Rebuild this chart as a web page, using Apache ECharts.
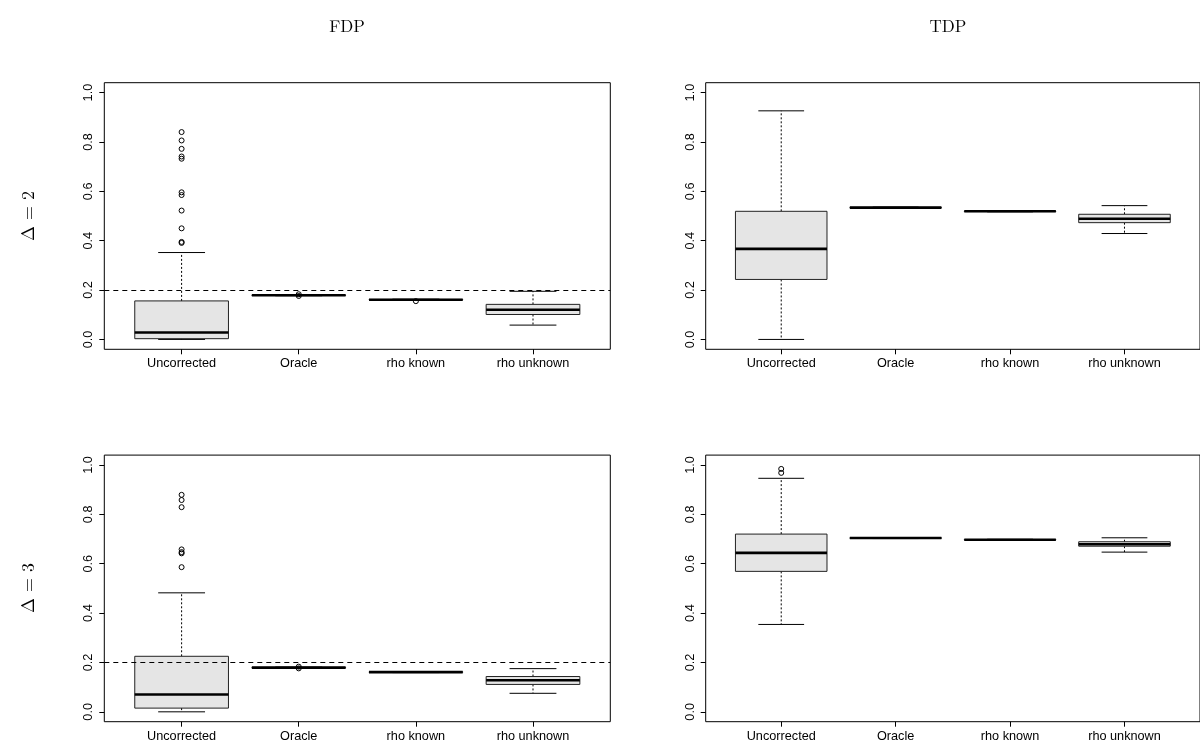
<!DOCTYPE html>
<html>
<head>
<meta charset="utf-8">
<script src="https://cdn.jsdelivr.net/npm/echarts@6/dist/echarts.min.js"></script>
<style>
html,body{margin:0;padding:0;background:#fff;}
#chart{width:1200px;height:743px;}
</style>
</head>
<body>
<div id="chart"></div>
<script>
// ---- data ----
const categories = ['Uncorrected', 'Oracle', 'rho known', 'rho unknown'];
const colTitles = ['FDP', 'TDP'];
const rowTitles = ['Δ = 2', 'Δ = 3'];
const yTicks = [0, 0.2, 0.4, 0.6, 0.8, 1.0];
const fdpLevel = 0.2;

// each box: [min, q1, median, q3, max]
const fdpD2 = [
  [0.000, 0.003, 0.028, 0.156, 0.352],
  [0.177, 0.178, 0.179, 0.180, 0.181],
  [0.158, 0.160, 0.161, 0.162, 0.163],
  [0.058, 0.101, 0.120, 0.142, 0.195]
];
const fdpD2Out = [
  [0.840, 0.806, 0.772, 0.741, 0.732, 0.596, 0.585, 0.522, 0.450, 0.395, 0.391],
  [0.183, 0.176],
  [0.155],
  []
];
const tdpD2 = [
  [0.000, 0.243, 0.367, 0.519, 0.926],
  [0.532, 0.533, 0.534, 0.535, 0.536],
  [0.517, 0.518, 0.519, 0.520, 0.521],
  [0.429, 0.473, 0.489, 0.507, 0.542]
];
const tdpD2Out = [[], [], [], []];
const fdpD3 = [
  [0.000, 0.015, 0.070, 0.225, 0.482],
  [0.177, 0.178, 0.179, 0.180, 0.181],
  [0.159, 0.160, 0.161, 0.162, 0.163],
  [0.075, 0.111, 0.128, 0.143, 0.175]
];
const fdpD3Out = [
  [0.879, 0.858, 0.829, 0.658, 0.647, 0.642, 0.586],
  [0.183, 0.176],
  [],
  []
];
const tdpD3 = [
  [0.354, 0.569, 0.644, 0.720, 0.946],
  [0.702, 0.703, 0.704, 0.705, 0.706],
  [0.695, 0.696, 0.697, 0.698, 0.699],
  [0.647, 0.671, 0.679, 0.689, 0.705]
];
const tdpD3Out = [[0.984, 0.968], [], [], []];

// ---- layout ----
const panels = [
  {box: fdpD2, out: fdpD2Out, ref: true,  left: 104.3, top: 82.7},
  {box: tdpD2, out: tdpD2Out, ref: false, left: 705.7, top: 82.7},
  {box: fdpD3, out: fdpD3Out, ref: true,  left: 104.3, top: 455.1},
  {box: tdpD3, out: tdpD3Out, ref: false, left: 705.7, top: 455.1}
];
const PW = 506, PH = 266.6;
const positions = categories.map((c, i) => i + 1);

const labelFont = 'Liberation Sans, Arial, Helvetica, sans-serif';
const serifFont = 'Latin Modern Roman, Liberation Serif, DejaVu Serif, serif';

const grids = [], xAxes = [], yAxes = [], series = [];
panels.forEach((p, k) => {
  grids.push({
    left: p.left, top: p.top, width: PW, height: PH,
    show: true, borderColor: '#000', borderWidth: 1, backgroundColor: 'transparent', containLabel: false
  });
  xAxes.push({
    type: 'value', gridIndex: k, min: 0.34, max: 4.66, position: 'bottom',
    axisLine: {show: false, onZero: false},
    splitLine: {show: false},
    axisTick: {show: true, length: 5, customValues: positions, lineStyle: {color: '#000', width: 1}},
    axisLabel: {
      show: true, customValues: positions, margin: 8,
      fontFamily: labelFont, fontSize: 12.7, color: '#000',
      formatter: v => categories[Math.round(v) - 1]
    }
  });
  yAxes.push({
    type: 'value', gridIndex: k, min: -0.04, max: 1.04, position: 'left',
    axisLine: {show: false, onZero: false},
    splitLine: {show: false},
    axisTick: {show: true, length: 5, customValues: yTicks, lineStyle: {color: '#000', width: 1}},
    axisLabel: {
      show: true, customValues: yTicks, rotate: 90, margin: 9,
      fontFamily: labelFont, fontSize: 12.7, color: '#000',
      formatter: v => v.toFixed(1)
    }
  });
  const boxData = p.box.map((b, i) => [positions[i]].concat(b));
  const s = {
    type: 'custom', xAxisIndex: k, yAxisIndex: k,
    data: boxData,
    encode: {x: 0, y: [1, 2, 3, 4, 5]},
    silent: true,
    renderItem: function (params, api) {
      const x = api.value(0);
      const vMin = api.value(1), vQ1 = api.value(2), vMed = api.value(3), vQ3 = api.value(4), vMax = api.value(5);
      const bw = api.size([0.8, 0])[0];
      const cw = api.size([0.4, 0])[0];
      const c = api.coord([x, vMed]);
      const cx = c[0];
      const yMin = api.coord([x, vMin])[1];
      const yQ1 = api.coord([x, vQ1])[1];
      const yMed = c[1];
      const yQ3 = api.coord([x, vQ3])[1];
      const yMax = api.coord([x, vMax])[1];
      const dash = {stroke: '#000', lineWidth: 1, lineDash: [2, 2]};
      const solid = {stroke: '#000', lineWidth: 1};
      return {
        type: 'group',
        children: [
          {type: 'line', shape: {x1: cx, y1: yQ3, x2: cx, y2: yMax}, style: dash},
          {type: 'line', shape: {x1: cx, y1: yQ1, x2: cx, y2: yMin}, style: dash},
          {type: 'line', shape: {x1: cx - cw / 2, y1: yMax, x2: cx + cw / 2, y2: yMax}, style: solid},
          {type: 'line', shape: {x1: cx - cw / 2, y1: yMin, x2: cx + cw / 2, y2: yMin}, style: solid},
          {type: 'rect', shape: {x: cx - bw / 2, y: yQ3, width: bw, height: Math.max(yQ1 - yQ3, 0.5)},
            style: {fill: '#e5e5e5', stroke: '#222', lineWidth: 1}},
          {type: 'line', shape: {x1: cx - bw / 2, y1: yMed, x2: cx + bw / 2, y2: yMed},
            style: {stroke: '#000', lineWidth: 2.6}}
        ]
      };
    }
  };
  if (p.ref) {
    s.markLine = {
      silent: true, symbol: 'none', animation: false,
      label: {show: false},
      lineStyle: {color: '#000', type: [5, 4], width: 1},
      data: [{yAxis: fdpLevel}]
    };
  }
  series.push(s);
  const outData = [];
  p.out.forEach((arr, i) => arr.forEach(v => outData.push([positions[i], v])));
  series.push({
    type: 'scatter', xAxisIndex: k, yAxisIndex: k,
    data: outData, symbol: 'circle', symbolSize: 5, silent: true,
    itemStyle: {color: 'rgba(0,0,0,0)', borderColor: '#000', borderWidth: 1, opacity: 1}
  });
});

const graphics = [
  {type: 'text', x: 347, y: 27, style: {text: colTitles[0], font: '17px ' + serifFont, fill: '#000', textAlign: 'center', textVerticalAlign: 'middle'}},
  {type: 'text', x: 948, y: 27, style: {text: colTitles[1], font: '17px ' + serifFont, fill: '#000', textAlign: 'center', textVerticalAlign: 'middle'}},
  {type: 'text', x: 28, y: 216, rotation: Math.PI / 2, style: {text: rowTitles[0], font: '18px ' + serifFont, fill: '#000', textAlign: 'center', textVerticalAlign: 'middle'}},
  {type: 'text', x: 28, y: 588, rotation: Math.PI / 2, style: {text: rowTitles[1], font: '18px ' + serifFont, fill: '#000', textAlign: 'center', textVerticalAlign: 'middle'}}
];

const chart = echarts.init(document.getElementById('chart'), null, {renderer: 'canvas'});
chart.setOption({
  animation: false,
  backgroundColor: '#fff',
  grid: grids,
  xAxis: xAxes,
  yAxis: yAxes,
  series: series,
  graphic: graphics
});
</script>
</body>
</html>
